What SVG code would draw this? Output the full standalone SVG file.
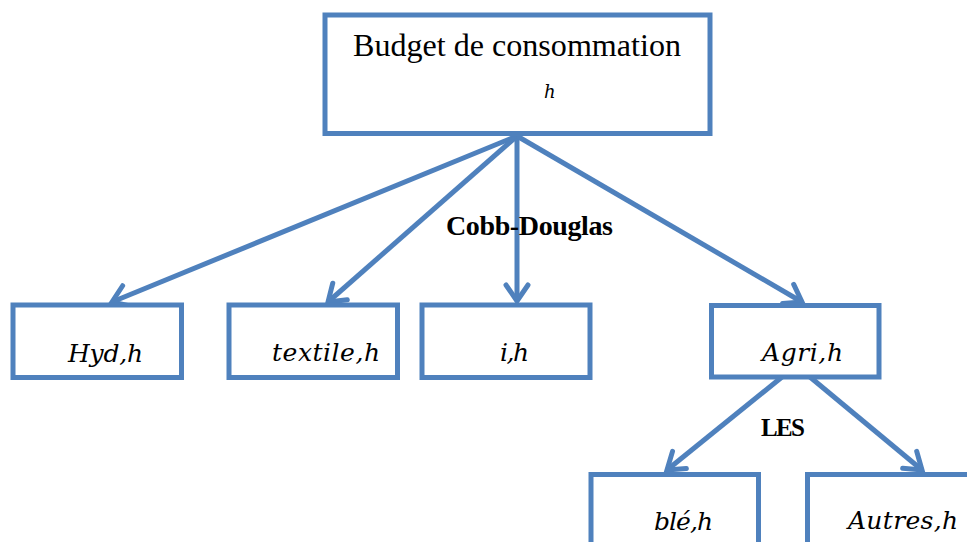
<svg xmlns="http://www.w3.org/2000/svg" width="967" height="542" viewBox="0 0 967 542">
  <style>
    .box { fill: #ffffff; stroke: #4F81BD; stroke-width: 5; }
    .edge { fill: none; stroke: #4F81BD; stroke-width: 5; }
    .title { font-family: "Liberation Serif", "Times New Roman", serif; font-size: 31px; fill: #000; }
    .var { font-family: "DejaVu Serif", "Liberation Serif", serif; font-style: italic; font-size: 25px; fill: #000; }
    .rule { font-family: "Liberation Serif", "Times New Roman", serif; font-weight: bold; fill: #000; }
  </style>
  <defs>
    <marker id="open-arrow" markerUnits="userSpaceOnUse" markerWidth="40" markerHeight="40" refX="0" refY="0" orient="auto" viewBox="-30 -20 40 40" overflow="visible">
      <path d="M -16 -11 L 0 0 L -16 11" fill="none" stroke="#4F81BD" stroke-width="5" stroke-linecap="round" stroke-linejoin="miter"/>
    </marker>
  </defs>

  <rect width="967" height="542" fill="#ffffff"/>

  <!-- connectors -->
  <g id="connectors">
    <line class="edge" x1="517" y1="136" x2="112" y2="302" marker-end="url(#open-arrow)"/>
    <line class="edge" x1="517" y1="136" x2="328" y2="302" marker-end="url(#open-arrow)"/>
    <line class="edge" x1="517" y1="136" x2="517" y2="301" marker-end="url(#open-arrow)"/>
    <line class="edge" x1="517" y1="136" x2="802" y2="302" marker-end="url(#open-arrow)"/>
    <line class="edge" x1="782" y1="377" x2="667" y2="470" marker-end="url(#open-arrow)"/>
    <line class="edge" x1="810" y1="377" x2="922" y2="470" marker-end="url(#open-arrow)"/>
  </g>

  <!-- top node -->
  <g id="budget">
    <rect class="box" x="325" y="15" width="385" height="118.5"/>
    <text class="title" x="517" y="56" text-anchor="middle" textLength="328" lengthAdjust="spacingAndGlyphs">Budget de consommation</text>
    <text x="544" y="98" font-family="'DejaVu Serif', serif" font-style="italic" font-size="18">h</text>
  </g>

  <g id="hyd">
    <rect class="box" x="13" y="305" width="168.5" height="72.5"/>
    <text class="var" x="68" y="362" textLength="75">Hyd,h</text>
  </g>

  <g id="textile">
    <rect class="box" x="229" y="305" width="168.5" height="72.5"/>
    <text class="var" x="272" y="361" textLength="108">textile,h</text>
  </g>

  <g id="i">
    <rect class="box" x="422" y="305" width="168" height="72.5"/>
    <text class="var" x="500" y="361" textLength="29">i,h</text>
  </g>

  <g id="agri">
    <rect class="box" x="711.5" y="305.5" width="167.5" height="71.5"/>
    <text class="var" x="762" y="361" textLength="81">Agri,h</text>
  </g>

  <g id="ble">
    <rect class="box" x="591" y="474.5" width="167.5" height="90"/>
    <text class="var" x="654" y="530" textLength="59">blé,h</text>
  </g>

  <g id="autres">
    <rect class="box" x="807.5" y="474.5" width="200" height="90"/>
    <text class="var" x="848" y="529" textLength="110">Autres,h</text>
  </g>

  <!-- function-form labels -->
  <g id="labels">
    <text class="rule" x="446" y="235" font-size="28" textLength="167">Cobb-Douglas</text>
    <text class="rule" x="761" y="436" font-size="25" textLength="44">LES</text>
  </g>
</svg>
